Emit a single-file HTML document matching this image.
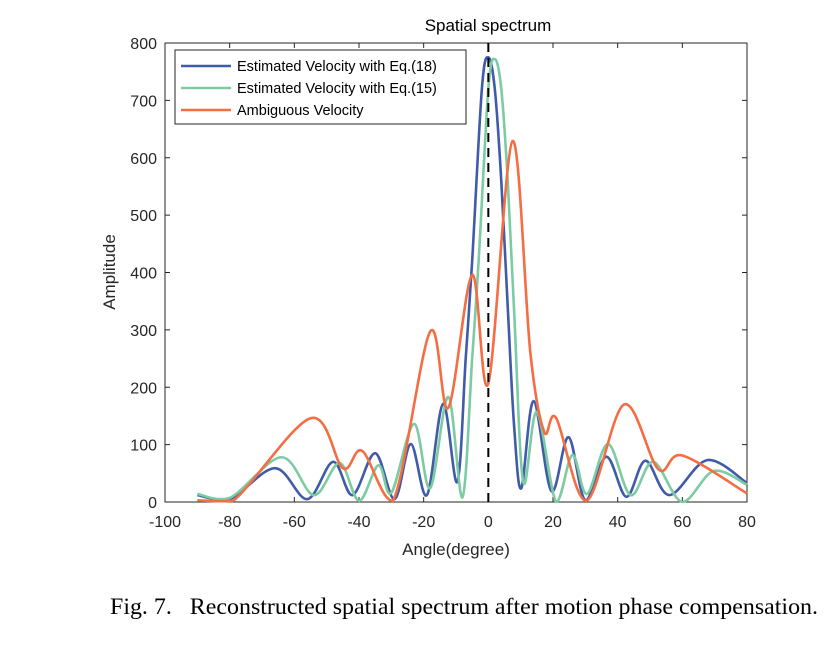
<!DOCTYPE html>
<html><head><meta charset="utf-8"><style>
body{margin:0;background:#fff;width:830px;height:641px;overflow:hidden}
svg text{font-family:"Liberation Sans",sans-serif}
</style></head><body>
<svg width="830" height="641">
<g id="plot"></g>
<text x="464" y="614" text-anchor="middle" textLength="708" lengthAdjust="spacingAndGlyphs" style="font-family:'Liberation Serif',serif;font-size:23px">Fig. 7.&#160;&#160;&#160;Reconstructed spatial spectrum after motion phase compensation.</text>
</svg>
<script>
const xTicks=[-100,-80,-60,-40,-20,0,20,40,60,80];
const yTicks=[0,100,200,300,400,500,600,700,800];
const blueX=[-90,-80,-66,-56,-48,-42,-35,-29,-24,-19,-14,-9.6,-7,-5,-2,0,2,4,6,8,10.2,14,19.5,24.8,30,36.5,42.7,48.6,56,67.7,80];
const blueY=[12,5,59,5,70,12,85,5,101,12,171,35,250,420,720,775,720,560,340,130,24,176,19,113,3,79,9,72,12,73,33];
const greenX=[-90,-80,-64,-54,-46,-40,-34,-30,-23,-18,-12.4,-8,-5,-3,0,2,4,6,8,10.8,15,21,26,30.5,37,44,51,60,69.7,80];
const greenY=[14,7,78,12,68,2,64,16,136,24,183,8,250,420,720,772,720,560,330,35,157,0,82,14,101,12,70,0,54,30];
const orangeX=[-90,-79,-55,-45,-39,-29.5,-18,-12.4,-5,0,7.5,13,17.3,21,30.3,42,52.6,60,80];
const orangeY=[3,2,146,59,89,2,297,164,396,207,629,260,122,146,2,170,57,81,15];
const L=165,R=747,T=43,B=502;
const xs=v=>L+(v+100)/180*(R-L);
const ys=v=>B-v/800*(B-T);
const NS='http://www.w3.org/2000/svg';
const g=document.getElementById('plot');
function mk(t,a,txt){const e=document.createElementNS(NS,t);for(const k in a)e.setAttribute(k,a[k]);if(txt!==undefined)e.textContent=txt;g.appendChild(e);return e;}
function path(X,Y){const P=X.map((x,i)=>[xs(x),ys(Y[i])]);let d='M'+P[0][0]+','+P[0][1];
for(let i=0;i<P.length-1;i++){const p0=P[i-1]||P[i],p1=P[i],p2=P[i+1],p3=P[i+2]||P[i+1];const k=1/6;
let c1y=p1[1]+(p2[1]-p0[1])*k,c2y=p2[1]-(p3[1]-p1[1])*k;c1y=Math.min(c1y,B);c2y=Math.min(c2y,B);
d+=' C'+(p1[0]+(p2[0]-p0[0])*k)+','+c1y+' '+(p2[0]-(p3[0]-p1[0])*k)+','+c2y+' '+p2[0]+','+p2[1];}return d;}
let e;
e=mk('rect',{x:L,y:T,width:R-L,height:B-T,fill:'#fff',stroke:'#262626','stroke-width':1});


xTicks.forEach(v=>{e=mk('line',{x1:xs(v),x2:xs(v),y1:B,y2:B-5,stroke:'#262626'});


e=mk('line',{x1:xs(v),x2:xs(v),y1:T,y2:T+5,stroke:'#262626'});


e=mk('text',{x:xs(v),y:B+25,'text-anchor':'middle','font-size':'16px',fill:'#262626'},v);

});
yTicks.forEach(v=>{e=mk('line',{x1:L,x2:L+5,y1:ys(v),y2:ys(v),stroke:'#262626'});


e=mk('line',{x1:R,x2:R-5,y1:ys(v),y2:ys(v),stroke:'#262626'});


e=mk('text',{x:L-8,y:ys(v)+6,'text-anchor':'end','font-size':'16px',fill:'#262626'},v);

});
const series=[[blueX,blueY,'#3f5ba9','series-eq18'],[greenX,greenY,'#7ccba2','series-eq15'],[orangeX,orangeY,'#f46d43','series-ambiguous']];
series.forEach(s=>{e=mk('path',{d:path(s[0],s[1]),fill:'none',stroke:s[2],'stroke-width':2.6,'stroke-linejoin':'round'});

});
e=mk('line',{x1:xs(0),x2:xs(0),y1:T,y2:B,stroke:'#000','stroke-width':2,'stroke-dasharray':'9,6'});


e=mk('text',{x:488,y:31,'text-anchor':'middle','font-size':'17px',fill:'#000'},'Spatial spectrum');


e=mk('text',{x:456,y:555,'text-anchor':'middle','font-size':'17px',fill:'#262626'},'Angle(degree)');


e=mk('text',{x:0,y:0,'text-anchor':'middle','font-size':'17px',fill:'#262626',transform:'translate(115,272) rotate(-90)'},'Amplitude');


e=mk('rect',{x:175,y:50,width:291,height:74,fill:'#fff',stroke:'#262626','stroke-width':1});


const legendLabels=['Estimated Velocity with Eq.(18)','Estimated Velocity with Eq.(15)','Ambiguous Velocity'];
legendLabels.forEach((t,i)=>{const y=66+i*22;
e=mk('line',{x1:181,x2:231,y1:y,y2:y,stroke:series[i][2],'stroke-width':2.6});


e=mk('text',{x:237,y:y+5,'font-size':'14.5px',fill:'#000'},t);

});
</script>
</body></html>
